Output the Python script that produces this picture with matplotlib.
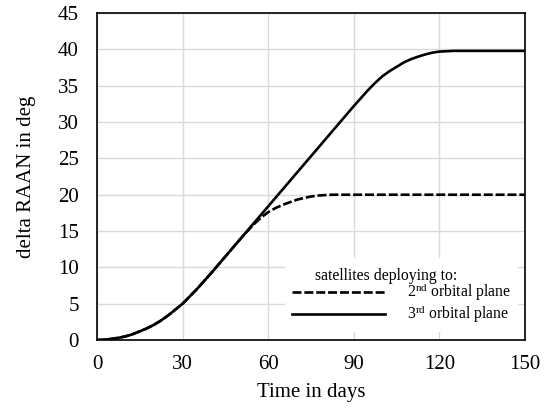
import matplotlib
matplotlib.use("Agg")
import matplotlib.pyplot as plt

plt.rcParams['font.family'] = ['Liberation Serif', 'DejaVu Serif']
plt.rcParams['mathtext.fontset'] = 'custom'
plt.rcParams['mathtext.rm'] = 'Liberation Serif'
plt.rcParams['mathtext.it'] = 'Liberation Serif:italic'

days = [0, 2.5, 5, 7.5, 10, 12.5, 15, 17.5, 20, 22.5, 25, 27.5, 30, 32.5, 35,
        37.5, 40, 42.5, 45, 47.5, 50, 52.5, 55, 57.5, 60, 62.5, 65, 67.5, 70,
        72.5, 75, 77.5, 80, 82.5, 85, 87.5, 90, 92.5, 95, 97.5, 100, 102.5,
        105, 107.5, 110, 112.5, 115, 117.5, 120, 122.5, 125, 127.5, 130,
        132.5, 135, 137.5, 140, 142.5, 145, 147.5, 150]

plane3 = [0, 0.04, 0.15, 0.3, 0.5, 0.8, 1.2, 1.6, 2.1, 2.7, 3.4, 4.2, 5.0, 6.0,
          7.0, 8.1, 9.2, 10.35, 11.5, 12.65, 13.8, 14.95, 16.1, 17.25, 18.4,
          19.55, 20.7, 21.85, 23.0, 24.15, 25.3, 26.45, 27.6, 28.75, 29.9,
          31.05, 32.2, 33.3, 34.4, 35.4, 36.3, 37.0, 37.6, 38.2, 38.65, 39.0,
          39.3, 39.55, 39.7, 39.75, 39.8, 39.8, 39.8, 39.8, 39.8, 39.8, 39.8,
          39.8, 39.8, 39.8, 39.8]

plane2 = [0, 0.04, 0.15, 0.3, 0.5, 0.8, 1.2, 1.6, 2.1, 2.7, 3.4, 4.2, 5.0, 6.0,
          7.0, 8.1, 9.2, 10.35, 11.5, 12.65, 13.8, 14.9, 15.95, 16.85, 17.6,
          18.15, 18.6, 18.95, 19.3, 19.55, 19.75, 19.88, 19.95, 20.0, 20.0,
          20.0, 20.0, 20.0, 20.0, 20.0, 20.0, 20.0, 20.0, 20.0, 20.0, 20.0,
          20.0, 20.0, 20.0, 20.0, 20.0, 20.0, 20.0, 20.0, 20.0, 20.0, 20.0,
          20.0, 20.0, 20.0, 20.0]

xticks = [0, 30, 60, 90, 120, 150]
yticks = [0, 5, 10, 15, 20, 25, 30, 35, 40, 45]

fig = plt.figure(figsize=(5.5, 4.09), dpi=100)
ax = fig.add_axes([0.1764, 0.1687, 0.7781, 0.7993])

ax.plot(days, plane2, color='black', lw=1.9, dashes=(3.4, 1.1),
        label='2$^{\\mathrm{nd}}$ orbital plane', zorder=3)
ax.plot(days, plane3, color='black', lw=1.9,
        label='3$^{\\mathrm{rd}}$ orbital plane', zorder=3)

ax.set_xlim(0, 150)
ax.set_ylim(0, 45)
ax.set_xticks(xticks)
ax.set_yticks(yticks)
ax.grid(True, color='#d9d9d9', lw=1.0)
ax.set_axisbelow(True)
ax.tick_params(axis='x', length=0, labelsize=15, pad=11)
ax.tick_params(axis='y', length=0, labelsize=15, pad=13)
for s in ax.spines.values():
    s.set_linewidth(1.2)
    s.set_color('black')

ax.set_xlabel('Time in days', fontsize=15, labelpad=6)
ax.set_ylabel('delta RAAN in deg', fontsize=15, labelpad=16)

leg = ax.legend(loc='lower left', bbox_to_anchor=(0.439, 0.024), borderaxespad=0,
                title='satellites deploying to:', fontsize=11.3, title_fontsize=11.3,
                frameon=True, fancybox=False, framealpha=1, facecolor='white',
                edgecolor='none', handlelength=5.9, handletextpad=1.4,
                labelspacing=0.0, borderpad=0.45)
leg.get_frame().set_linewidth(0)
leg.get_title().set_position((-15, -3))

fig.savefig('out.png', dpi=100)
